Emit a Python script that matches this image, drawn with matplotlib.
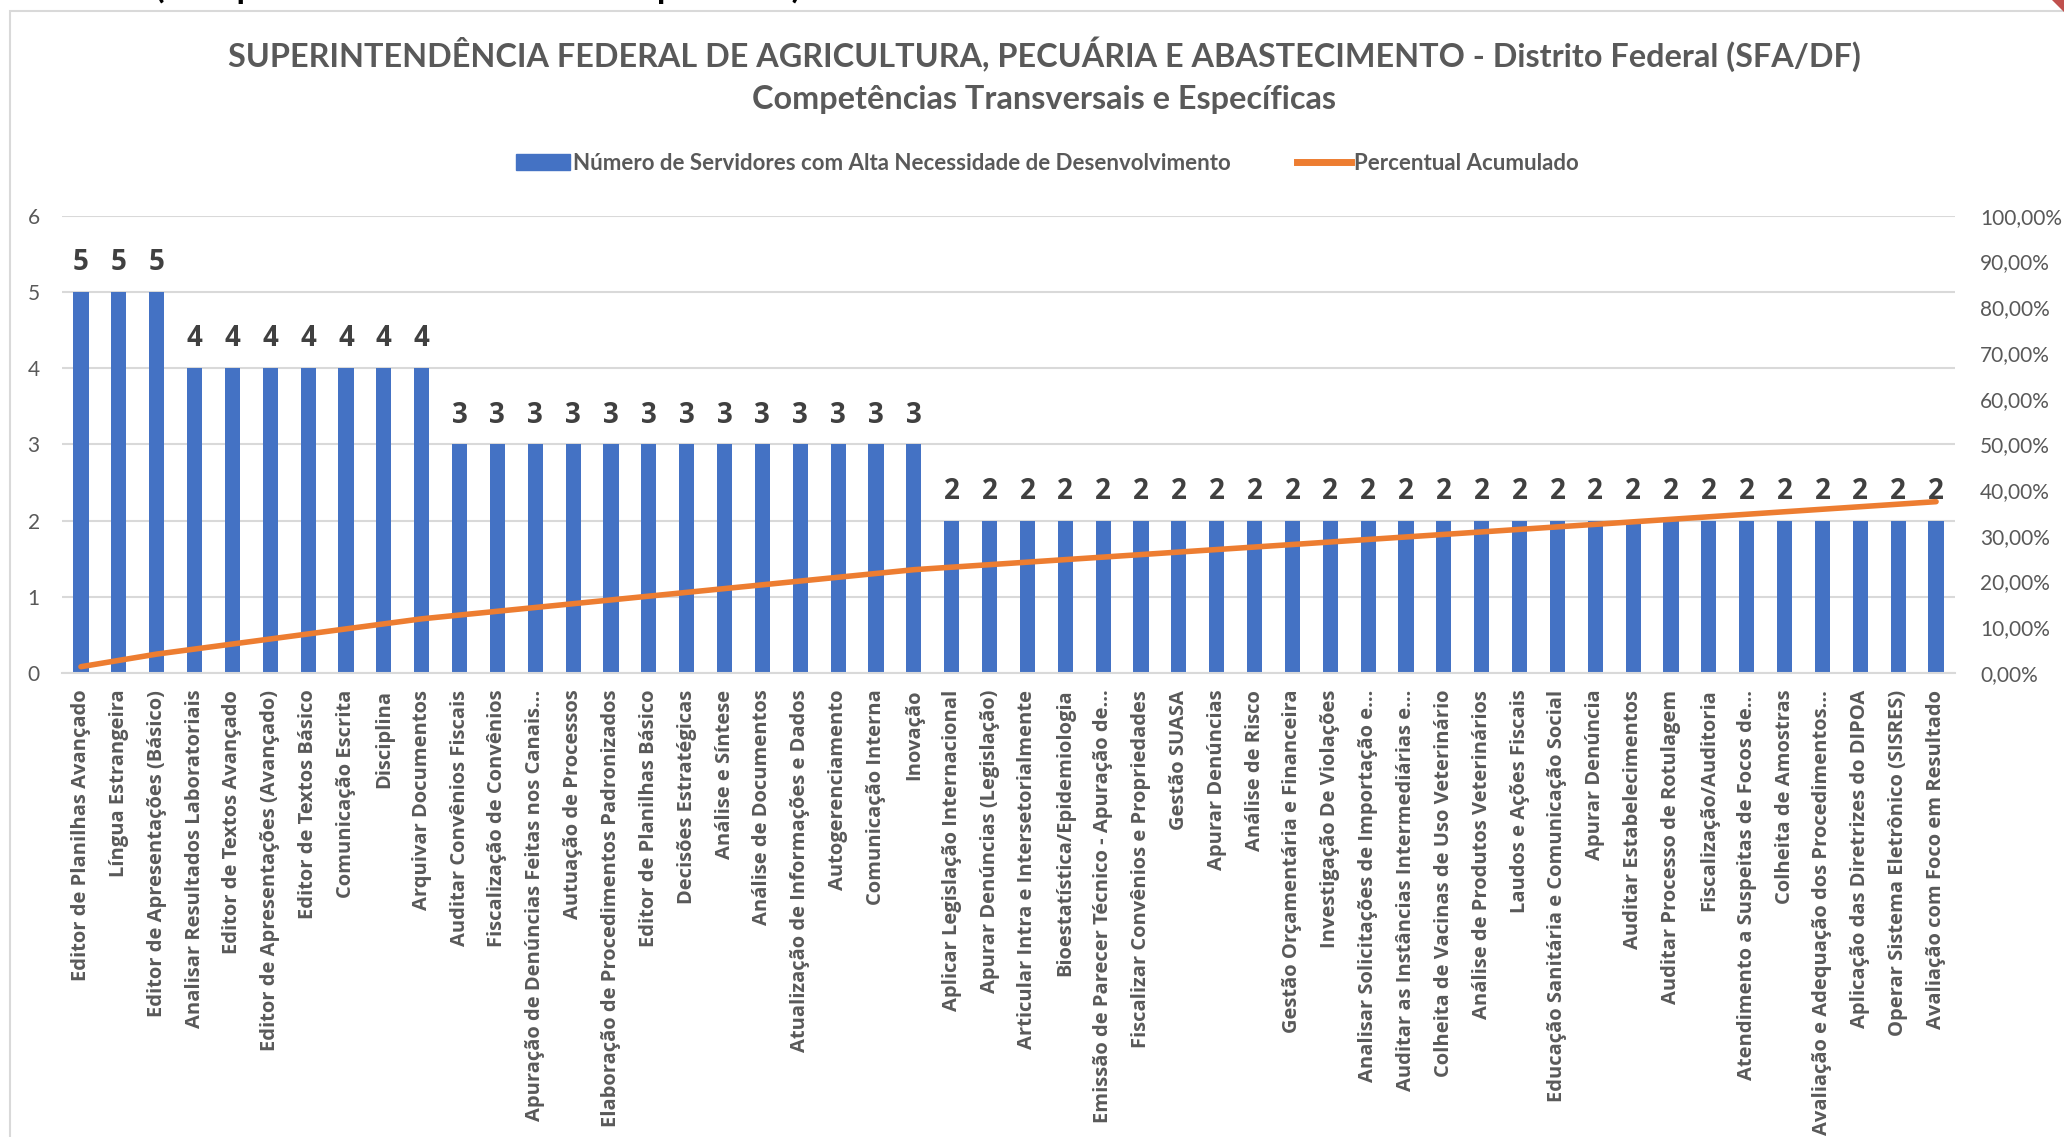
import matplotlib
matplotlib.use("Agg")
import matplotlib.pyplot as plt
from matplotlib.patches import Rectangle, Polygon
from matplotlib.lines import Line2D
from matplotlib.ticker import FuncFormatter, MultipleLocator
import numpy as np

categories = [
    "Editor de Planilhas Avançado", "Língua Estrangeira", "Editor de Apresentações (Básico)",
    "Analisar Resultados Laboratoriais", "Editor de Textos Avançado", "Editor de Apresentações (Avançado)",
    "Editor de Textos Básico", "Comunicação Escrita", "Disciplina", "Arquivar Documentos",
    "Auditar Convênios Fiscais", "Fiscalização de Convênios", "Apuração de Denúncias Feitas nos Canais…",
    "Autuação de Processos", "Elaboração de Procedimentos Padronizados", "Editor de Planilhas Básico",
    "Decisões Estratégicas", "Análise e Síntese", "Análise de Documentos",
    "Atualização de Informações e Dados", "Autogerenciamento", "Comunicação Interna", "Inovação",
    "Aplicar Legislação Internacional", "Apurar Denúncias (Legislação)", "Articular Intra e Intersetorialmente",
    "Bioestatística/Epidemiologia", "Emissão de Parecer Técnico - Apuração de…",
    "Fiscalizar Convênios e Propriedades", "Gestão SUASA", "Apurar Denúncias", "Análise de Risco",
    "Gestão Orçamentária e Financeira", "Investigação De Violações",
    "Analisar Solicitações de Importação e…", "Auditar as Instâncias Intermediárias e…",
    "Colheita de Vacinas de Uso Veterinário", "Análise de Produtos Veterinários", "Laudos e Ações Fiscais",
    "Educação Sanitária e Comunicação Social", "Apurar Denúncia", "Auditar Estabelecimentos",
    "Auditar Processo de Rotulagem", "Fiscalização/Auditoria", "Atendimento a Suspeitas de Focos de…",
    "Colheita de Amostras", "Avaliação e Adequação dos Procedimentos…", "Aplicação das Diretrizes do DIPOA",
    "Operar Sistema Eletrônico (SISRES)", "Avaliação com Foco em Resultado",
]
servidores = [5, 5, 5, 4, 4, 4, 4, 4, 4, 4,
              3, 3, 3, 3, 3, 3, 3, 3, 3, 3, 3, 3, 3,
              2, 2, 2, 2, 2, 2, 2, 2, 2, 2, 2, 2, 2, 2, 2, 2, 2, 2, 2, 2, 2, 2, 2, 2, 2, 2, 2]
total_servidores = 363  # total over all competencies (chart shows only the first 50)
percentual_acumulado = np.cumsum(servidores) / total_servidores

BLUE = "#4472C4"
ORANGE = "#ED7D31"
GREY = "#595959"

fig = plt.figure(figsize=(20.64, 11.37), dpi=100)
W, H = 2064, 1137

# chart border (right and bottom edges lie outside the picture)
fig.add_artist(Rectangle((10 / W, -0.05), 1.1, (H - 11) / H + 0.05, transform=fig.transFigure,
                         fill=False, edgecolor="#d9d9d9", linewidth=1.5))
fig.add_artist(Polygon([(2052 / W, 1.0), (1.0, 1.0), (1.0, 1 - 12 / H)], closed=True,
                       transform=fig.transFigure, facecolor="#C0504D", edgecolor="none"))

# clipped text above chart
fig.text(155 / W, 1 + 2 / H, "(Competências Transversais e Específicas)", fontsize=25,
         fontweight="bold", family="Lato", color="black", ha="left", va="baseline")

fig.text(0.506, 1 - 54 / H,
         "SUPERINTENDÊNCIA FEDERAL DE AGRICULTURA, PECUÁRIA E ABASTECIMENTO - Distrito Federal (SFA/DF)",
         ha="center", va="center", fontsize=23.3, fontweight="bold", family="Lato", color=GREY)
fig.text(0.506, 1 - 100 / H, "Competências Transversais e Específicas",
         ha="center", va="center", fontsize=23.3, fontweight="bold", family="Lato", color=GREY)

left, right = 62 / W, 1955 / W
bottom, top = 1 - 673 / H, 1 - 215.7 / H
ax = fig.add_axes([left, bottom, right - left, top - bottom])
x = np.arange(len(categories))
ax.bar(x, servidores, width=0.4, color=BLUE, zorder=2)
ax.set_xlim(-0.5, len(categories) - 0.5)
ax.set_ylim(0, 6)
ax.yaxis.set_major_locator(MultipleLocator(1))
ax.grid(axis="y", color="#d9d9d9", linewidth=1.5, zorder=0)
for s in ["top", "right", "left"]:
    ax.spines[s].set_visible(False)
ax.spines["bottom"].set_color("#d9d9d9")
ax.spines["bottom"].set_linewidth(1.5)
ax.tick_params(axis="y", length=0, pad=16, labelsize=15, labelcolor=GREY)
ax.tick_params(axis="x", length=0, pad=12)
ax.set_xticks(x)
ax.set_xticklabels(categories, rotation=90, fontsize=14.5, fontweight="bold", family="Open Sans",
                   color=GREY, va="top", ha="center")
for lbl in ax.get_yticklabels():
    lbl.set_family("Lato")

for xi, v in zip(x, servidores):
    ax.annotate(str(v), (xi, v), xytext=(0, 21), textcoords="offset points", ha="center",
                va="center", fontsize=20, fontweight="bold", family="Open Sans", color="#404040")

ax2 = ax.twinx()
ax2.plot(x, percentual_acumulado, color=ORANGE, linewidth=4, solid_capstyle="round", zorder=3)
ax2.set_ylim(0, 1)
ax2.yaxis.set_major_locator(MultipleLocator(0.1))
ax2.yaxis.set_major_formatter(FuncFormatter(lambda v, p: f"{v*100:.2f}%".replace(".", ",")))
for s in ["top", "right", "left", "bottom"]:
    ax2.spines[s].set_visible(False)
ax2.tick_params(axis="y", length=0, pad=18, labelsize=15, labelcolor=GREY)
for lbl in ax2.get_yticklabels():
    lbl.set_family("Lato")

handles = [Rectangle((0, 0), 1, 1, color=BLUE), Line2D([0], [0], color=ORANGE, linewidth=5)]
labels = ["Número de Servidores com Alta Necessidade de Desenvolvimento", "Percentual Acumulado"]
fig.legend(handles, labels, loc="center", bbox_to_anchor=(0.5075, 1 - 163 / H), ncol=2,
           frameon=False, prop={"family": "Lato", "weight": "bold", "size": 16},
           labelcolor=GREY, handlelength=2.4, handletextpad=0.15, columnspacing=3.0)

fig.savefig("out.png", dpi=100)
